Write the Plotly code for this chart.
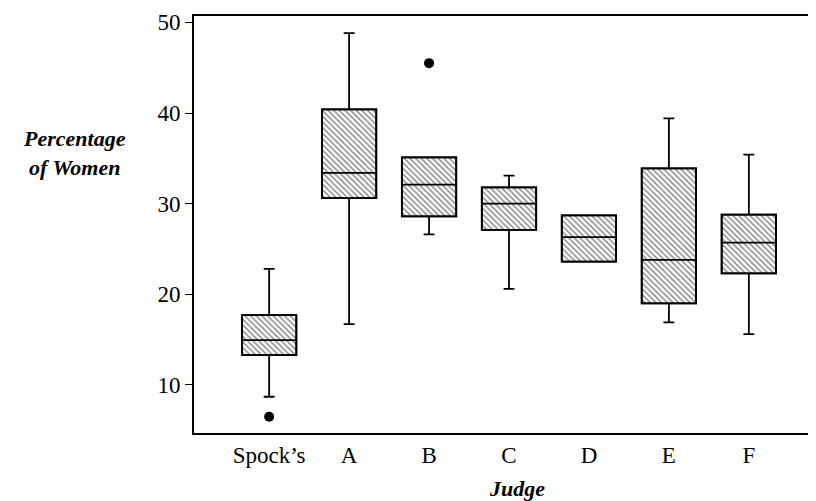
import plotly.graph_objects as go

judges = ["Spock\u2019s", "A", "B", "C", "D", "E", "F"]
lower_whisker = [8.7, 16.7, 26.6, 20.6, 23.6, 16.9, 15.6]
q1 = [13.3, 30.6, 28.6, 27.1, 23.6, 19.0, 22.3]
median = [14.95, 33.4, 32.1, 30.0, 26.3, 23.8, 25.7]
q3 = [17.7, 40.4, 35.1, 31.8, 28.7, 33.9, 28.8]
upper_whisker = [22.8, 48.8, 35.1, 33.1, 28.7, 39.4, 35.4]
outlier_judges = ["Spock\u2019s", "B"]
outlier_values = [6.5, 45.5]

FONT = "Liberation Serif"
BW = 0.68

fig = go.Figure()

# hatched box bodies
fig.add_trace(go.Bar(
    x=judges, base=q1, y=[b - a for a, b in zip(q1, q3)], width=BW,
    marker=dict(color="white", line=dict(color="black", width=1.8),
                pattern=dict(shape="\\", size=4, solidity=0.35,
                             fgcolor="black", bgcolor="white")),
    showlegend=False, hoverinfo="skip"))

# box outlines, medians, whiskers
fig.add_trace(go.Box(
    x=judges, q1=q1, median=median, q3=q3,
    lowerfence=lower_whisker, upperfence=upper_whisker,
    width=BW, whiskerwidth=0.2, fillcolor="rgba(0,0,0,0)",
    line=dict(color="black", width=1.8), boxpoints=False,
    showlegend=False))

# outliers
fig.add_trace(go.Scatter(
    x=outlier_judges, y=outlier_values, mode="markers",
    marker=dict(color="black", size=10), showlegend=False))

fig.update_layout(
    width=816, height=501,
    margin=dict(l=186, r=0, t=8, b=76),
    paper_bgcolor="white", plot_bgcolor="white",
    font=dict(family=FONT, color="black", size=23),
    barmode="overlay",
    xaxis=dict(type="category", categoryorder="array", categoryarray=judges,
               range=[-0.94, 6.94], showline=True, mirror=True,
               linecolor="black", linewidth=1.8, ticks="", showgrid=False,
               zeroline=False, tickfont=dict(family=FONT, size=23),
               ticklabelstandoff=0),
    yaxis=dict(range=[4.7, 50.7], tickvals=[10, 20, 30, 40, 50],
               showline=True, linecolor="black", linewidth=1.8,
               ticks="outside", ticklen=7, tickwidth=1.3, tickcolor="black",
               showgrid=False, zeroline=False,
               tickfont=dict(family=FONT, size=23)),
    annotations=[
        dict(text="<b><i>Percentage<br>of Women</i></b>", xref="paper", yref="paper",
             x=-0.189, y=0.672, xanchor="center", yanchor="middle", showarrow=False,
             font=dict(family=FONT, size=22), align="center"),
        dict(text="<b><i>Judge</i></b>", xref="paper", yref="paper",
             x=0.512, y=-0.134, xanchor="center", yanchor="middle", showarrow=False,
             font=dict(family=FONT, size=22)),
    ],
)

fig.write_html("out.html")
